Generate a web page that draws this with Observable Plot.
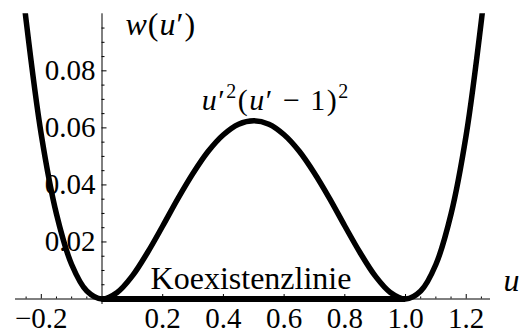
<!DOCTYPE html>
<html>
<head>
<meta charset="utf-8">
<script src="https://cdn.jsdelivr.net/npm/d3@7"></script>
<script src="https://cdn.jsdelivr.net/npm/@observablehq/plot@0.6"></script>
<style>
  body { margin: 0; background: #fff; }
  #chart svg text { font-family: "Liberation Serif", "Times New Roman", "DejaVu Serif", serif !important; }
</style>
</head>
<body>
<div id="chart"></div>
<script>
// Double-well potential w(u') sampled along u'
const uValues = [-0.27, -0.25, -0.20, -0.15, -0.10, -0.05, 0.00, 0.05, 0.10, 0.15, 0.20, 0.25,
                 0.30, 0.35, 0.40, 0.45, 0.50, 0.55, 0.60, 0.65, 0.70, 0.75, 0.80, 0.85,
                 0.90, 0.95, 1.00, 1.05, 1.10, 1.15, 1.20, 1.25, 1.27];
const wValues = [0.1176, 0.0977, 0.0576, 0.0298, 0.0121, 0.0028, 0.0000, 0.0023, 0.0081, 0.0163, 0.0256, 0.0352,
                 0.0441, 0.0518, 0.0576, 0.0613, 0.0625, 0.0613, 0.0576, 0.0518, 0.0441, 0.0352, 0.0256, 0.0163,
                 0.0081, 0.0023, 0.0000, 0.0028, 0.0121, 0.0298, 0.0576, 0.0977, 0.1176];

// Coexistence line between the two minima
const coexistenceFrom = [0];
const coexistenceTo = [1];

// Axis ticks and labels
const xTickLabels = [-0.2, 0.2, 0.4, 0.6, 0.8, 1.0, 1.2];
const xMajorTicks = [-0.2, 0.2, 0.4, 0.6, 0.8, 1.0, 1.2];
const xMinorTicks = [-0.25, -0.15, -0.1, -0.05, 0.05, 0.1, 0.15, 0.25, 0.3, 0.35, 0.45, 0.5, 0.55,
                     0.65, 0.7, 0.75, 0.85, 0.9, 0.95, 1.05, 1.1, 1.15, 1.25];
const yTickLabels = [0.02, 0.04, 0.06, 0.08];
const yMajorTicks = [0.02, 0.04, 0.06, 0.08];
const yMinorTicks = [0.005, 0.01, 0.015, 0.025, 0.03, 0.035, 0.045, 0.05, 0.055, 0.065, 0.07, 0.075,
                     0.085, 0.09, 0.095];

const labelCurve = "u′2(u′ − 1)2";
const labelYAxis = "w(u′)";
const labelXAxis = "u";
const labelLine = "Koexistenzlinie";

const data = uValues.map((u, i) => ({u, w: wValues[i]}));

// Frame geometry
const W = 521, H = 334;
const mL = 15, mR = 31, mT = 13.3, mB = 26.94;
const xDomain = [-0.285, 1.28];
const yDomain = [-0.003, 0.1];
const pxX = (xDomain[1] - xDomain[0]) / (W - mL - mR);   // data units per pixel, horizontal
const pxY = (yDomain[1] - yDomain[0]) / (H - mT - mB);   // data units per pixel, vertical

const serif = "Liberation Serif";
const fmtX = d => (d < 0 ? "−" : "") + Math.abs(d).toFixed(1);
const fmtY = d => d.toFixed(2);

const chart = Plot.plot({
  width: W,
  height: H,
  marginLeft: mL,
  marginRight: mR,
  marginTop: mT,
  marginBottom: mB,
  style: {background: "#fff"},
  x: {domain: xDomain, axis: null},
  y: {domain: yDomain, axis: null},
  marks: [
    // axis lines
    Plot.ruleY([0], {stroke: "#000", strokeWidth: 1}),
    Plot.ruleX([0], {y1: -5.5 * pxY, y2: yDomain[1], stroke: "#000", strokeWidth: 1}),
    // ticks pointing into the plot
    Plot.ruleX(xMinorTicks, {x: d => d, y1: 0, y2: 2 * pxY, stroke: "#000", strokeWidth: 1}),
    Plot.ruleX(xMajorTicks, {x: d => d, y1: 0, y2: 4.5 * pxY, stroke: "#000", strokeWidth: 1}),
    Plot.ruleY(yMinorTicks, {y: d => d, x1: 0, x2: 3 * pxX, stroke: "#000", strokeWidth: 1}),
    Plot.ruleY(yMajorTicks, {y: d => d, x1: 0, x2: 5 * pxX, stroke: "#000", strokeWidth: 1}),
    // tick labels
    Plot.text(xTickLabels, {x: d => d, y: 0, text: fmtX, dy: 28.5, lineAnchor: "bottom",
      textAnchor: "middle", fontSize: 29, fontFamily: serif, fill: "#000"}),
    Plot.text(yTickLabels, {x: 0, y: d => d, text: fmtY, dx: -6.5, lineAnchor: "middle",
      textAnchor: "end", fontSize: 29, fontFamily: serif, fill: "#000"}),
    // axis labels and annotations
    Plot.text([labelYAxis], {x: 0, y: yDomain[1], text: d => d, dx: 23.5, dy: 21,
      lineAnchor: "bottom", textAnchor: "start", fontSize: 32, fontFamily: serif, fill: "#000"}),
    Plot.text([labelXAxis], {x: xDomain[1], y: 0, text: d => d, dx: 13, dy: -8.5,
      lineAnchor: "bottom", textAnchor: "start", fontSize: 32, fontFamily: serif, fontStyle: "italic", fill: "#000"}),
    Plot.text([labelLine], {x: 0.5, y: 0, text: d => d, dx: -2.75, dy: -10.5,
      lineAnchor: "bottom", textAnchor: "middle", fontSize: 32, fontFamily: serif, fill: "#000"}),
    Plot.text([labelCurve], {x: 0.5, y: 0.0625, text: d => d, dx: -52, dy: -11,
      lineAnchor: "bottom", textAnchor: "start", fontSize: 30, fontFamily: serif, fill: "#000"}),
    // coexistence line and potential curve
    Plot.ruleY([0], {x1: coexistenceFrom[0], x2: coexistenceTo[0], stroke: "#000", strokeWidth: 6}),
    Plot.line(data, {x: "u", y: "w", curve: "catmull-rom", stroke: "#000", strokeWidth: 5.5,
      strokeLinejoin: "round", clip: true})
  ]
});

// Math-style labels: italic variables and raised exponents
function richText(svg, plain, parts, spacing) {
  d3.select(svg).selectAll("text")
    .filter(function () { return this.textContent === plain; })
    .each(function () {
      const t = d3.select(this);
      t.text(null);
      if (spacing) t.attr("letter-spacing", spacing);
      for (const p of parts) {
        const s = t.append("tspan").text(p.t);
        if (p.italic) s.attr("font-style", "italic");
        if (p.size) s.attr("font-size", p.size);
        if (p.dy) s.attr("dy", p.dy);
      }
    });
}

richText(chart, labelCurve, [
  {t: "u", italic: true}, {t: "′"}, {t: "2", size: 20, dy: -12},
  {t: "(", dy: 12}, {t: "u", italic: true}, {t: "′"}, {t: " − 1)"}, {t: "2", size: 20, dy: -12}
], 1.5);
richText(chart, labelYAxis, [
  {t: "w", italic: true}, {t: "("}, {t: "u", italic: true}, {t: "′"}, {t: ")"}
], 1);

document.getElementById("chart").appendChild(chart);
</script>
</body>
</html>
